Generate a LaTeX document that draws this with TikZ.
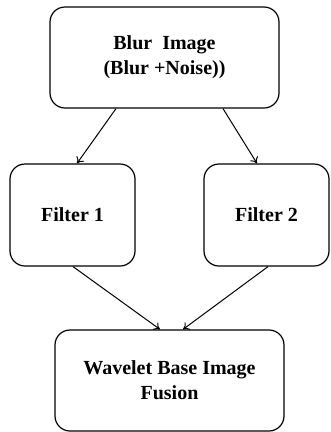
\documentclass[tikz,border=0pt]{standalone}
\usepackage{fontspec}
\setmainfont{Liberation Serif}
\usetikzlibrary{arrows.meta}
\begin{document}
\begin{tikzpicture}[x=1pt,y=1pt,
  box/.style={draw, line width=1.2pt, rounded corners=15pt, align=center,
    font=\fontsize{20}{25}\selectfont\bfseries, inner sep=0pt},
  conn/.style={line width=1pt, -{To[length=6pt,width=9pt]}}]
\useasboundingbox (0,0) rectangle (331,-432);
\node[box, minimum width=229pt, minimum height=101pt] (top) at (164.5,-57.5) {Blur\ \ Image\\(Blur +Noise))};
\node[box, minimum width=125pt, minimum height=102pt] (f1) at (72.5,-215) {Filter 1};
\node[box, minimum width=125pt, minimum height=102pt] (f2) at (266.5,-215) {Filter 2};
\node[box, minimum width=229pt, minimum height=101pt] (bot) at (169.5,-380.5) {Wavelet Base Image\\Fusion};
\draw[conn] ([xshift=-48.5pt]top.south) -- ([xshift=4.5pt]f1.north);
\draw[conn] ([xshift=58.5pt]top.south) -- ([xshift=-9.5pt]f2.north);
\draw[conn] ([xshift=0.5pt]f1.south) -- ([xshift=-9.5pt]bot.north);
\draw[conn] ([xshift=1.5pt]f2.south) -- ([xshift=13.5pt]bot.north);
\end{tikzpicture}
\end{document}
